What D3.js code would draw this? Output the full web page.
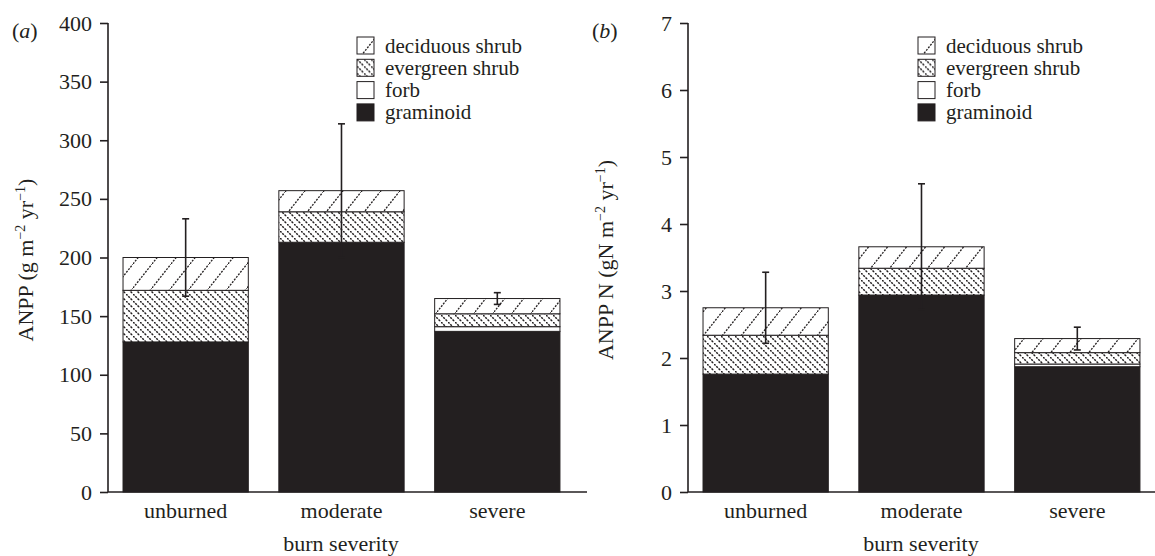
<!DOCTYPE html>
<html>
<head>
<meta charset="utf-8">
<script src="https://cdn.jsdelivr.net/npm/d3@7"></script>
</head>
<body style="margin:0;background:#fff">
<svg id="chart" width="1155" height="556" font-family="'Liberation Serif'"></svg>
<script>
// categories / series
const categories = ["unburned", "moderate", "severe"];
const keys = ["graminoid", "forb", "evergreen", "deciduous"];
const legendLabels = ["deciduous shrub", "evergreen shrub", "forb", "graminoid"];

// panel (a) ANPP, g m-2 yr-1
const anppGraminoid = [128, 213, 137];
const anppForb = [0, 0, 4];
const anppEvergreen = [44, 26, 11];
const anppDeciduous = [28, 18, 13];
const anppErr = [33, 57, 5];
const anppTicks = [0, 50, 100, 150, 200, 250, 300, 350, 400];

// panel (b) ANPP N, gN m-2 yr-1
const nGraminoid = [1.76, 2.94, 1.87];
const nForb = [0, 0, 0.04];
const nEvergreen = [0.58, 0.40, 0.17];
const nDeciduous = [0.41, 0.32, 0.21];
const nErr = [0.53, 0.94, 0.17];
const nTicks = [0, 1, 2, 3, 4, 5, 6, 7];

const svg = d3.select("#chart");
const ink = "#231f20";
const serif = "'Liberation Serif'";
const fs = 22;

// hatch patterns
const defs = svg.append("defs");
const dec = defs.append("pattern").attr("id", "hatch-dec")
    .attr("patternUnits", "userSpaceOnUse").attr("width", 19).attr("height", 24);
dec.append("rect").attr("width", 19).attr("height", 24).attr("fill", "#fff");
dec.append("line").attr("x1", 0).attr("y1", 24).attr("x2", 19).attr("y2", 0)
    .attr("stroke", ink).attr("stroke-width", 1.3).attr("stroke-dasharray", "2 1.3");

const eve = defs.append("pattern").attr("id", "hatch-eve")
    .attr("patternUnits", "userSpaceOnUse").attr("width", 7).attr("height", 7);
eve.append("rect").attr("width", 7).attr("height", 7).attr("fill", "#fff");
eve.append("line").attr("x1", 0).attr("y1", 0).attr("x2", 7).attr("y2", 7)
    .attr("stroke", ink).attr("stroke-width", 1.5).attr("stroke-dasharray", "2.2 1");

const fills = {
    graminoid: ink,
    forb: "#fff",
    evergreen: "url(#hatch-eve)",
    deciduous: "url(#hatch-dec)"
};
const legendFills = [fills.deciduous, fills.evergreen, fills.forb, fills.graminoid];

function drawPanel(p) {
    const g = svg.append("g");

    const rows = categories.map((c, i) => ({
        cat: c,
        graminoid: p.graminoid[i],
        forb: p.forb[i],
        evergreen: p.evergreen[i],
        deciduous: p.deciduous[i]
    }));
    const series = d3.stack().keys(keys)(rows);

    const x = d3.scaleBand().domain(categories)
        .range([p.left, p.left + 479])
        .paddingInner(0.196).paddingOuter(0.135).align(0.357);
    const y = d3.scaleLinear().domain([0, p.max]).range([492, 23]);

    // bars
    g.selectAll("g.layer")
        .data(series)
        .join("g")
        .attr("class", "layer")
        .attr("fill", d => fills[d.key])
        .selectAll("rect")
        .data(d => d)
        .join("rect")
        .attr("x", d => x(d.data.cat))
        .attr("y", d => y(d[1]))
        .attr("width", x.bandwidth())
        .attr("height", d => y(d[0]) - y(d[1]))
        .attr("stroke", ink)
        .attr("stroke-width", d => d[1] - d[0] > 0 ? 1 : 0);

    // error bars
    const top = series[series.length - 1];
    const eb = g.append("g").attr("stroke", ink).attr("stroke-width", 1.6);
    top.forEach((d, i) => {
        const cx = x(d.data.cat) + x.bandwidth() / 2;
        const hi = y(d[1] + p.err[i]), lo = y(d[1] - p.err[i]);
        eb.append("line").attr("x1", cx).attr("x2", cx).attr("y1", hi).attr("y2", lo);
        eb.append("line").attr("x1", cx - 3.5).attr("x2", cx + 3.5).attr("y1", hi).attr("y2", hi);
        eb.append("line").attr("x1", cx - 3.5).attr("x2", cx + 3.5).attr("y1", lo).attr("y2", lo);
    });

    // axes
    const ya = g.append("g").attr("transform", `translate(${p.left},0)`)
        .call(d3.axisLeft(y).tickValues(p.ticks).tickFormat(d3.format("d")).tickSize(8).tickPadding(8));
    ya.attr("font-family", serif).attr("font-size", fs);
    ya.selectAll("path, line").attr("stroke", ink).attr("stroke-width", 1.6);
    ya.select(".domain").attr("d", `M0,${y(p.max)}V${y(0)}`);
    ya.selectAll("text").attr("fill", ink).attr("font-family", serif);

    const xa = g.append("g").attr("transform", "translate(0,492)")
        .call(d3.axisBottom(x).tickSize(0).tickPadding(10));
    xa.attr("font-family", serif).attr("font-size", fs);
    xa.select(".domain").attr("stroke", ink).attr("stroke-width", 1.6)
        .attr("d", `M${p.left},0H${p.left + 479}`);
    xa.selectAll("text").attr("fill", ink).attr("font-family", serif);

    // axis titles
    g.append("text")
        .attr("x", (p.left + p.left + 466) / 2).attr("y", 551)
        .attr("text-anchor", "middle").attr("font-size", fs)
        .attr("font-family", serif).attr("fill", ink)
        .text("burn severity");

    const yt = g.append("text")
        .attr("transform", `translate(${p.left - 75},${p.titleY}) rotate(-90)`)
        .attr("text-anchor", "middle").attr("font-size", fs)
        .attr("font-family", serif).attr("fill", ink);
    yt.append("tspan").text(p.title + " (" + p.unit + " m");
    yt.append("tspan").attr("font-size", 14).attr("dy", -8).text("\u22122");
    yt.append("tspan").attr("dy", 8).text(" yr");
    yt.append("tspan").attr("font-size", 14).attr("dy", -8).text("\u22121");
    yt.append("tspan").attr("dy", 8).text(")");

    // panel letter
    const pl = g.append("text").attr("x", p.left - 96).attr("y", 38)
        .attr("font-size", fs).attr("font-family", serif).attr("fill", ink);
    pl.append("tspan").text("(");
    pl.append("tspan").attr("font-style", "italic").text(p.letter);
    pl.append("tspan").text(")");

    // legend
    const lg = g.append("g").attr("transform", `translate(${p.legendX},37)`);
    legendLabels.forEach((lab, i) => {
        const row = lg.append("g").attr("transform", `translate(0,${i * 22.3})`);
        row.append("rect").attr("width", 17).attr("height", 17)
            .attr("fill", legendFills[i]).attr("stroke", ink).attr("stroke-width", 1);
        row.append("text").attr("x", 28).attr("y", 15.5).attr("font-size", 21)
            .attr("font-family", serif).attr("fill", ink).text(lab);
    });
}

drawPanel({
    left: 108, max: 400, ticks: anppTicks,
    graminoid: anppGraminoid, forb: anppForb, evergreen: anppEvergreen, deciduous: anppDeciduous,
    err: anppErr, title: "ANPP", unit: "g", titleY: 260, letter: "a", legendX: 357
});
drawPanel({
    left: 688, max: 7, ticks: nTicks,
    graminoid: nGraminoid, forb: nForb, evergreen: nEvergreen, deciduous: nDeciduous,
    err: nErr, title: "ANPP N", unit: "gN", titleY: 260, letter: "b", legendX: 918
});
</script>
</body>
</html>
